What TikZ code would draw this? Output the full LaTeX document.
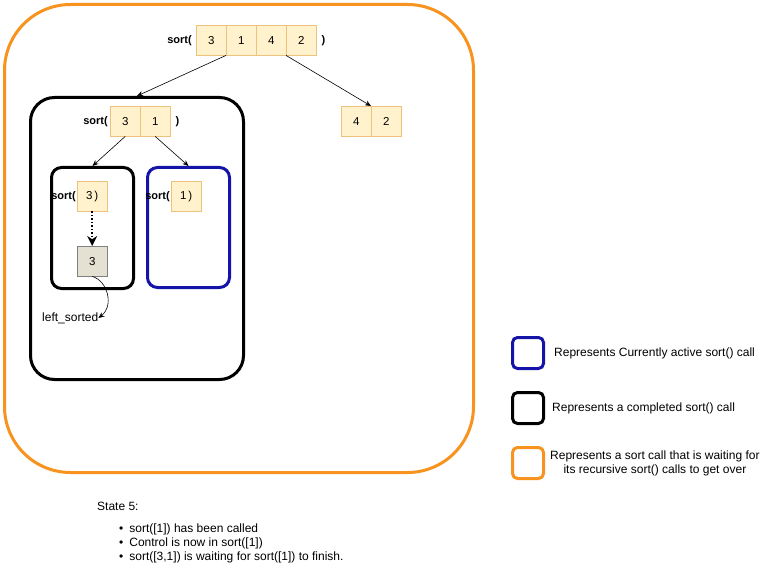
\documentclass[tikz,border=0pt]{standalone}
\usepackage{fontspec}
\setmainfont{Liberation Sans}
\usetikzlibrary{arrows.meta,positioning}
\definecolor{waitorange}{HTML}{F7931E}
\definecolor{activeblue}{HTML}{1414A8}
\definecolor{cellfill}{HTML}{FFF2CC}
\definecolor{celldraw}{HTML}{EDC27C}
\definecolor{donefill}{HTML}{E4E0D2}
\begin{document}
\begin{tikzpicture}[x=1pt,y=-1pt,
	every node/.style={font=\fontsize{12}{14}\selectfont, inner sep=0pt},
	cell/.style={draw=celldraw, fill=cellfill, minimum size=30pt, anchor=north west, font=\fontsize{11.5}{13}\selectfont},
	callname/.style={font=\bfseries\fontsize{11}{13}\selectfont},
	callbox/.style={line width=3pt, rounded corners=#1, anchor=north west},
	legendbox/.style={line width=3pt, rounded corners=5pt, minimum size=31pt, anchor=north west},
	link/.style={-{Stealth[length=6pt,width=5pt]}, semithick}]
	\useasboundingbox (0,0) rectangle (763,588);

	% frames of the calls
	\node[callbox=66pt, draw=waitorange, minimum width=469pt, minimum height=468pt] (wait) at (3,3) {};
	\node[callbox=24pt, draw=black, minimum width=213pt, minimum height=282pt] (done) at (29,96) {};
	\node[callbox=10pt, draw=black, minimum width=82pt, minimum height=121pt] (leftcall) at (50,166) {};
	\node[callbox=10pt, draw=activeblue, minimum width=82pt, minimum height=120pt] (rightcall) at (146,166) {};

	% sort([3,1,4,2])
	\node[cell] (t1) at (196,25) {3};
	\node[cell] (t2) at (226,25) {1};
	\node[cell] (t3) at (256,25) {4};
	\node[cell] (t4) at (286,25) {2};
	\node[callname, left=4pt of t1] (tsort) {sort(};
	\node[callname, right=5pt of t4] (tclose) {)};

	% sort([3,1])
	\node[cell] (m1) at (110,106) {3};
	\node[cell] (m2) at (140,106) {1};
	\node[callname, left=2pt of m1] (msort) {sort(};
	\node[callname, right=5pt of m2] (mclose) {)};

	% [4,2]
	\node[cell] (r1) at (341,106) {4};
	\node[cell] (r2) at (371,106) {2};

	% sort([3]) and sort([1])
	\node[cell] (l1) at (77,181) {3\,)};
	\node[callname, left=1pt of l1] (lsort) {sort(};
	\node[cell] (b1) at (171,181) {1\,)};
	\node[callname, left=1pt of b1] (bsort) {sort(};
	\node[cell, draw=gray, fill=donefill] (l2) at (77,246) {3};
	\node[anchor=west] (lsorted) at (42,318) {left\_sorted};

	\draw[link] (t2.south west) -- (done.north);
	\draw[link] (t4.south west) -- (r2.north west);
	\draw[link] (m1.south) -- (leftcall.north);
	\draw[link] (m2.south) -- (rightcall.north);
	\draw[line width=1.5pt, dotted, -{Stealth[length=10pt,width=10pt]}] (l1.south) -- (l2.north);
	\draw[link] (l2.south) .. controls (108,281) and (114,306) .. (lsorted.east);

	% legend
	\node[legendbox, draw=activeblue] (lgactive) at (511,336) {};
	\node[legendbox, draw=black] (lgdone) at (511,391) {};
	\node[legendbox, draw=waitorange] (lgwait) at (511,446) {};
	\node[right=9pt of lgactive] {Represents Currently active sort() call};
	\node[right=7pt of lgdone] {Represents a completed sort() call};
	\node[right=5pt of lgwait, align=center] {Represents a sort call that is waiting for\\its recursive sort() calls to get over};

	% state notes
	\node[anchor=west] (state) at (97,506) {State 5:};
	\node[anchor=west] (n1) at (119,529) {\textbullet\hspace{6pt}sort([1]) has been called};
	\node[anchor=west] (n2) at (119,543) {\textbullet\hspace{6pt}Control is now in sort([1])};
	\node[anchor=west] (n3) at (119,557) {\textbullet\hspace{6pt}sort([3,1]) is waiting for sort([1]) to finish.};
\end{tikzpicture}
\end{document}
